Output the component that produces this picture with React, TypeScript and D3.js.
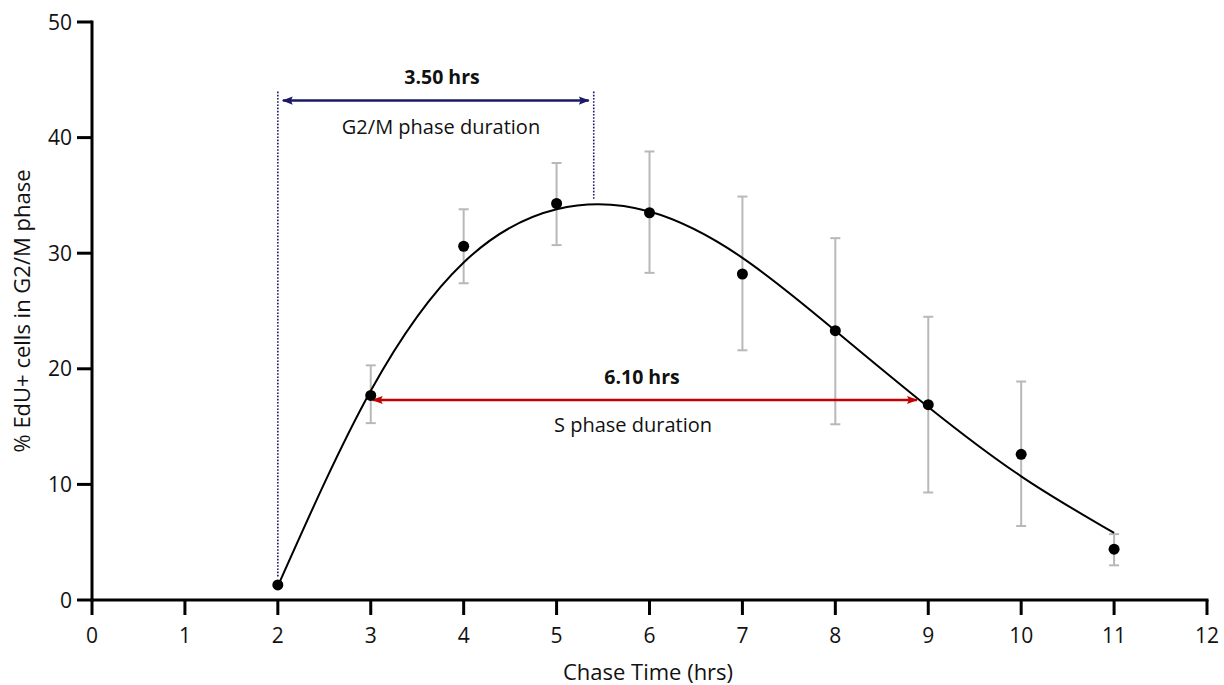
import React from "react";
import * as d3 from "d3";

const chaseTimes = [2, 3, 4, 5, 6, 7, 8, 9, 10, 11];
const meanValues = [1.3, 17.7, 30.6, 34.3, 33.5, 28.2, 23.3, 16.9, 12.6, 4.4];
const errUpper = [1.3, 20.3, 33.8, 37.8, 38.8, 34.9, 31.3, 24.5, 18.9, 5.7];
const errLower = [1.3, 15.3, 27.4, 30.7, 28.3, 21.6, 15.2, 9.3, 6.4, 3.0];

const fitX = [2, 3, 4, 5, 6, 7, 8, 9, 10, 11];
const fitY = [1.2, 18.1, 29.2, 33.8, 33.6, 29.6, 23.3, 16.7, 10.7, 5.8];

const xTicks = [0, 1, 2, 3, 4, 5, 6, 7, 8, 9, 10, 11, 12];
const yTicks = [0, 10, 20, 30, 40, 50];

const g2mStart = 2;
const g2mEnd = 5.4;
const g2mLabel = "3.50 hrs";
const g2mText = "G2/M phase duration";
const g2mY = 43.2;
const sStart = 3;
const sEnd = 8.9;
const sLabel = "6.10 hrs";
const sText = "S phase duration";
const sY = 17.3;

const FONT = "'Open Sans', 'Noto Sans', sans-serif";

export default function App() {
  const width = 1224;
  const height = 685;
  const x = d3.scaleLinear().domain([0, 12]).range([92, 1207]);
  const y = d3.scaleLinear().domain([0, 50]).range([600, 22]);

  const fitPts: [number, number][] = fitX.map((v, i) => [v, fitY[i]]);
  const line = d3
    .line<[number, number]>()
    .x((d) => x(d[0]))
    .y((d) => y(d[1]))
    .curve(d3.curveNatural);

  const navy = "#1a1a66";
  const red = "#c40000";

  return (
    <svg width={width} height={height} style={{ position: "absolute", left: 0, top: 0, background: "#fff" }}>
      <defs>
        <marker id="ab" viewBox="0 0 12 10" refX="11" refY="5" markerWidth="12" markerHeight="9" orient="auto-start-reverse" markerUnits="userSpaceOnUse">
          <path d="M0,0.5 L12,5 L0,9.5 L2,5 Z" fill={navy} />
        </marker>
        <marker id="ar" viewBox="0 0 12 10" refX="11" refY="5" markerWidth="12" markerHeight="9" orient="auto-start-reverse" markerUnits="userSpaceOnUse">
          <path d="M0,0.5 L12,5 L0,9.5 L2,5 Z" fill={red} />
        </marker>
      </defs>
      <rect x={0} y={0} width={width} height={height} fill="#fff" />

      {/* y axis */}
      <line x1={x(0)} x2={x(0)} y1={y(50) - 1.5} y2={y(0) + 1.5} stroke="#000" strokeWidth={3} />
      {yTicks.map((t) => (
        <g key={"y" + t}>
          <line x1={x(0) - 15} x2={x(0)} y1={y(t)} y2={y(t)} stroke="#000" strokeWidth={3} />
          <text x={x(0) - 20} y={y(t)} dy="0.36em" textAnchor="end" fontFamily={FONT} fontSize={21} fill="#111">
            {t}
          </text>
        </g>
      ))}
      {/* x axis */}
      <line x1={x(0) - 1.5} x2={x(12) + 1.5} y1={y(0)} y2={y(0)} stroke="#000" strokeWidth={3} />
      {xTicks.map((t) => (
        <g key={"x" + t}>
          <line x1={x(t)} x2={x(t)} y1={y(0)} y2={y(0) + 15} stroke="#000" strokeWidth={3} />
          <text x={x(t)} y={643} textAnchor="middle" fontFamily={FONT} fontSize={21} fill="#111">
            {t}
          </text>
        </g>
      ))}
      <text x={648} y={680} textAnchor="middle" fontFamily={FONT} fontSize={22} fill="#111">
        Chase Time (hrs)
      </text>
      <text
        transform={`translate(30, ${y(25)}) rotate(-90)`}
        textAnchor="middle"
        fontFamily={FONT}
        fontSize={22}
        fill="#111"
      >
        % EdU+ cells in G2/M phase
      </text>

      {/* error bars */}
      {chaseTimes.map((t, i) =>
        errUpper[i] - errLower[i] > 0.5 ? (
          <g key={"e" + t} stroke="#b8b8b8" strokeWidth={2}>
            <line x1={x(t)} x2={x(t)} y1={y(errUpper[i])} y2={y(errLower[i])} />
            <line x1={x(t) - 5} x2={x(t) + 5} y1={y(errUpper[i])} y2={y(errUpper[i])} />
            <line x1={x(t) - 5} x2={x(t) + 5} y1={y(errLower[i])} y2={y(errLower[i])} />
          </g>
        ) : null
      )}

      {/* G2/M annotation */}
      <line x1={x(g2mStart)} x2={x(g2mStart)} y1={y(g2mY) - 9} y2={y(1.3) - 8} stroke={navy} strokeWidth={1.6} strokeDasharray="1.6,1.6" />
      <line x1={x(g2mEnd)} x2={x(g2mEnd)} y1={y(g2mY) - 9} y2={y(34.6)} stroke={navy} strokeWidth={1.6} strokeDasharray="1.6,1.6" />
      <line
        x1={x(g2mStart) + 5}
        x2={x(g2mEnd) - 5}
        y1={y(g2mY)}
        y2={y(g2mY)}
        stroke={navy}
        strokeWidth={2.5}
        markerStart="url(#ab)"
        markerEnd="url(#ab)"
      />
      <text x={442} y={y(g2mY) - 17} textAnchor="middle" fontFamily={FONT} fontWeight="bold" fontSize={19.5} fill="#111">
        {g2mLabel}
      </text>
      <text x={441} y={y(g2mY) + 33} textAnchor="middle" fontFamily={FONT} fontSize={20} fill="#111">
        {g2mText}
      </text>

      {/* S annotation */}
      <line
        x1={x(sStart) + 2}
        x2={x(sEnd) - 2}
        y1={y(sY)}
        y2={y(sY)}
        stroke={red}
        strokeWidth={2.5}
        markerStart="url(#ar)"
        markerEnd="url(#ar)"
      />
      <text x={642} y={y(sY) - 16} textAnchor="middle" fontFamily={FONT} fontWeight="bold" fontSize={19.5} fill="#111">
        {sLabel}
      </text>
      <text x={633} y={y(sY) + 32} textAnchor="middle" fontFamily={FONT} fontSize={20} fill="#111">
        {sText}
      </text>

      {/* fit curve */}
      <path d={line(fitPts) || ""} fill="none" stroke="#000" strokeWidth={2} />

      {/* points */}
      {chaseTimes.map((t, i) => (
        <circle key={"p" + t} cx={x(t)} cy={y(meanValues[i])} r={5.5} fill="#000" />
      ))}
    </svg>
  );
}
